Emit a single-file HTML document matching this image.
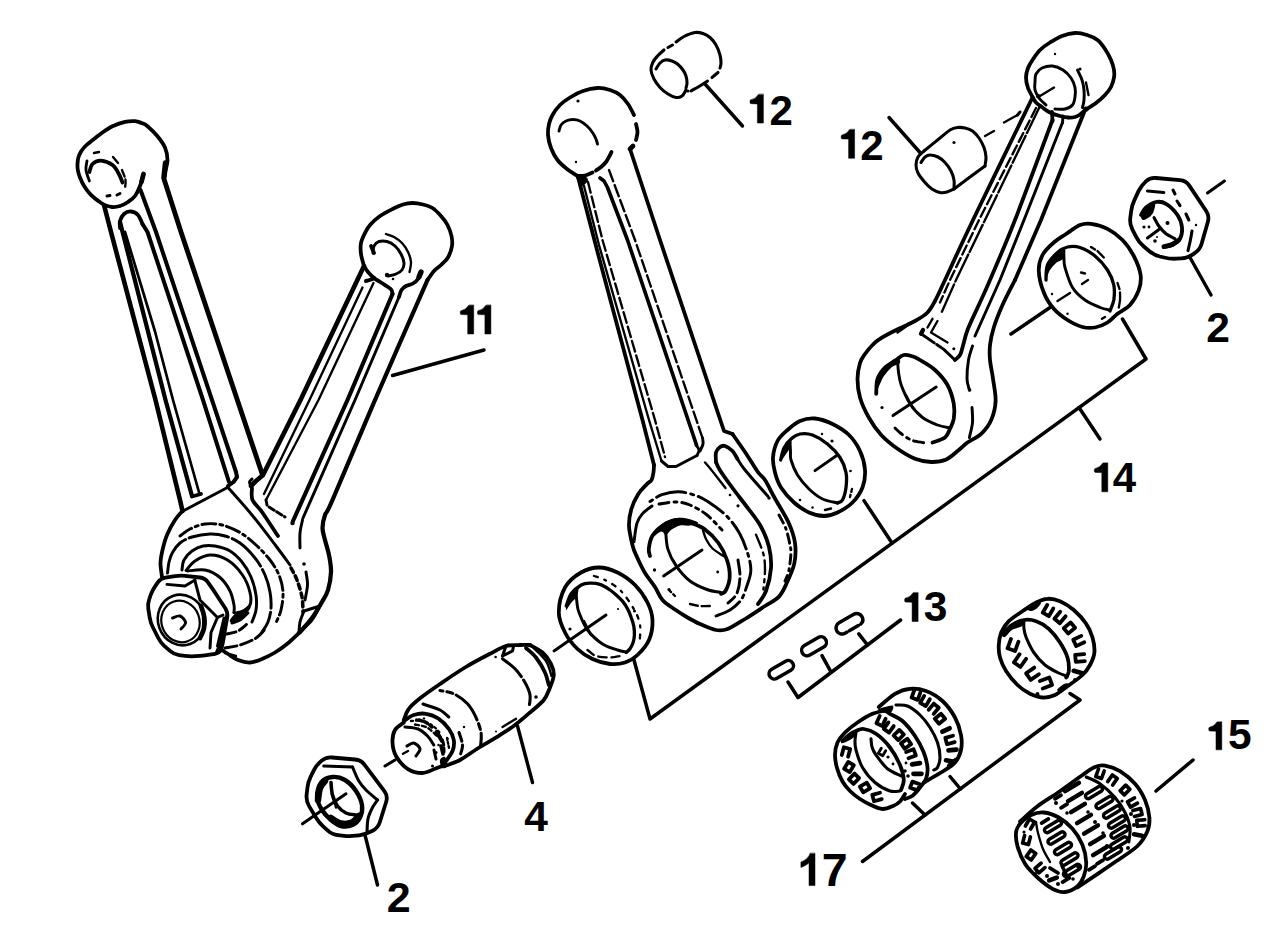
<!DOCTYPE html>
<html><head><meta charset="utf-8"><title>Connecting rods</title>
<style>
html,body{margin:0;padding:0;background:#fff;}
body{width:1280px;height:926px;overflow:hidden;}
svg{display:block;}
text{font-family:"Liberation Sans",sans-serif;font-weight:bold;fill:#000;stroke:none;}
</style></head><body>
<svg width="1280" height="926" viewBox="0 0 1280 926">
<title>Connecting rod assembly - exploded parts diagram</title>
<rect width="1280" height="926" fill="#fff"/>
<g fill="none" stroke="#000" stroke-linecap="round" stroke-linejoin="round">
<path d="M102.5 203.8C101.2 202.9 97.3 200.4 95.0 198.5C92.7 196.6 90.7 194.8 88.8 192.5C86.8 190.2 85.0 187.5 83.5 185.0C82.0 182.5 81.0 180.0 80.0 177.5C79.0 175.0 78.2 172.3 77.8 170.0C77.4 167.7 77.4 165.9 77.5 163.8C77.6 161.6 77.9 159.1 78.5 157.0C79.1 154.9 80.1 153.1 81.2 151.2C82.4 149.4 83.8 147.7 85.5 146.0C87.2 144.3 88.4 143.5 91.2 141.2C94.1 139.0 99.0 135.0 102.5 132.5C106.0 130.0 108.8 128.0 112.5 126.2C116.2 124.5 121.2 122.7 125.0 121.9C128.8 121.1 132.2 121.1 135.0 121.2C137.8 121.4 139.4 122.2 141.5 123.0C143.6 123.8 144.8 124.0 147.5 126.2C150.2 128.5 154.6 132.7 157.5 136.2C160.4 139.8 163.3 143.5 165.0 147.5C166.7 151.5 167.5 155.8 167.5 160.0C167.5 164.2 165.6 169.2 165.0 172.5C164.4 175.8 164.0 178.8 163.8 180.0" stroke-width="3.78"/>
<path d="M104.0 205.0C105.3 205.3 109.3 206.8 112.0 207.0C114.7 207.2 117.3 206.8 120.0 206.0C122.7 205.2 125.5 203.7 128.0 202.0C130.5 200.3 133.0 198.7 135.0 196.0C137.0 193.3 138.6 189.7 140.0 186.0C141.4 182.3 142.9 176.0 143.5 174.0" stroke-width="3.78"/>
<path d="M143.5 174.0 L141.5 182.0" stroke-width="4.72"/>
<path d="M165.5 163.0 L164.0 177.0" stroke-width="5.43"/>
<path d="M89.4 172.0C89.9 170.7 90.6 165.9 92.5 164.0C94.4 162.1 97.7 160.4 101.0 160.6C104.3 160.8 109.5 162.8 112.5 165.0C115.5 167.2 117.1 170.8 118.8 173.8C120.4 176.7 121.9 181.0 122.5 182.5" stroke-width="3.78"/>
<path d="M87.0 161.0C86.8 162.5 85.6 166.7 86.0 170.0C86.4 173.3 88.8 179.2 89.4 181.0" stroke-width="2.83"/>
<path d="M113.0 157.0 L118.0 163.0" stroke-width="2.36"/>
<path d="M122.0 170.0C122.6 171.7 125.0 177.0 125.5 180.0C126.0 183.0 125.1 186.7 125.0 188.0" stroke-width="2.36" stroke-dasharray="7 3"/>
<path d="M117.0 195.0 L120.0 193.5" stroke-width="2.95"/>
<path d="M107.0 196.0 L110.0 195.5" stroke-width="2.95"/>
<path d="M94.0 153.0 L99.0 152.0" stroke-width="2.36"/>
<path d="M104.0 205.0L111.0 232.0L155.5 400.0L180.0 500.0L182.5 511.0" stroke-width="4.60"/>
<path d="M164.0 179.0L181.0 232.0L262.5 475.0" stroke-width="4.84"/>
<path d="M140.5 190.0L156.0 232.0L236.0 472.0L237.0 477.0L233.5 482.0L228.0 486.0" stroke-width="4.01"/>
<path d="M120.0 228.0C120.0 226.8 119.3 223.3 120.0 221.0C120.7 218.7 122.2 215.6 124.0 214.0C125.8 212.4 128.7 211.3 131.0 211.5C133.3 211.7 136.1 212.9 138.0 215.0C139.9 217.1 141.8 222.5 142.5 224.0" stroke-width="3.78"/>
<path d="M142.5 224.0L147.5 232.0L203.0 400.0L229.0 482.0" stroke-width="4.01"/>
<path d="M120.0 222.0L165.5 400.0L192.0 496.0" stroke-width="4.25"/>
<path d="M125.0 232.0L155.0 331.5L173.0 400.0L199.5 494.0" stroke-width="2.71"/>
<path d="M192.0 496.5 L201.0 494.0" stroke-width="3.78"/>
<path d="M183.0 511.0L227.5 487.5" stroke-width="2.95"/>
<path d="M182.5 511.0C181.2 512.5 177.6 516.0 175.0 520.0C172.4 524.0 169.1 530.0 167.0 535.0C164.9 540.0 163.6 545.3 162.5 550.0C161.4 554.7 160.6 558.5 160.5 563.0C160.4 567.5 161.8 574.7 162.0 577.0" stroke-width="3.78"/>
<path d="M228.0 487.5C232.0 492.1 244.0 505.2 252.0 515.0C260.0 524.8 269.7 537.7 276.0 546.0C282.3 554.3 287.7 561.8 290.0 565.0" stroke-width="2.95"/>
<path d="M291.0 568.0C292.0 570.0 295.2 575.2 297.0 580.0C298.8 584.8 301.0 591.7 302.0 597.0C303.0 602.3 302.8 609.5 303.0 612.0" stroke-width="3.54" stroke-dasharray="5 4"/>
<path d="M364.0 266.0C363.5 264.0 361.5 257.8 361.0 254.0C360.5 250.2 360.3 246.5 361.0 243.0C361.7 239.5 363.5 236.0 365.0 233.0C366.5 230.0 367.5 227.8 370.0 225.0C372.5 222.2 376.2 218.7 380.0 216.0C383.8 213.3 388.7 210.9 392.5 209.0C396.3 207.1 399.7 205.5 403.0 204.5C406.3 203.5 409.2 203.0 412.5 203.0C415.8 203.0 419.7 203.7 423.0 204.5C426.3 205.3 429.5 206.1 432.5 208.0C435.5 209.9 438.5 213.2 441.0 216.0C443.5 218.8 445.8 221.7 447.5 225.0C449.2 228.3 450.8 232.5 451.5 236.0C452.2 239.5 452.6 242.4 452.0 246.0C451.4 249.6 449.8 254.3 448.0 257.5C446.2 260.7 443.3 262.8 441.0 265.0C438.7 267.2 436.2 268.5 434.0 271.0C431.8 273.5 428.6 278.5 427.5 280.0" stroke-width="3.78"/>
<path d="M364.0 266.0C364.7 267.0 366.3 270.0 368.0 272.0C369.7 274.0 371.8 276.2 374.0 278.0C376.2 279.8 378.7 281.0 381.0 282.5C383.3 284.0 386.2 285.8 388.0 287.0C389.8 288.2 390.8 288.8 391.5 290.0C392.2 291.2 392.3 293.3 392.5 294.0" stroke-width="3.78"/>
<path d="M366.0 281.0C366.8 280.8 369.7 280.0 371.0 279.5C372.3 279.0 373.5 278.2 374.0 278.0" stroke-width="4.01"/>
<path d="M420.5 272.5C420.1 273.6 419.2 277.2 418.0 279.0C416.8 280.8 415.0 282.3 413.0 283.5C411.0 284.7 407.9 284.9 406.0 286.0C404.1 287.1 402.7 288.2 401.5 290.0C400.3 291.8 399.4 295.8 399.0 297.0" stroke-width="3.78"/>
<path d="M421.0 272.0 L419.0 277.0" stroke-width="5.31"/>
<path d="M373.0 253.0C373.2 251.8 373.0 247.9 374.0 246.0C375.0 244.1 376.8 242.2 379.0 241.5C381.2 240.8 384.3 240.8 387.0 241.5C389.7 242.2 392.7 243.9 395.0 246.0C397.3 248.1 399.5 251.2 401.0 254.0C402.5 256.8 403.8 260.3 404.0 263.0C404.2 265.7 403.3 268.2 402.0 270.0C400.7 271.8 398.3 273.0 396.0 274.0C393.7 275.0 389.3 275.7 388.0 276.0" stroke-width="2.95"/>
<path d="M371.0 246.0 L374.0 253.0" stroke-width="3.78"/>
<path d="M386.0 234.0C387.3 234.5 391.3 235.5 394.0 237.0C396.7 238.5 399.7 240.5 402.0 243.0C404.3 245.5 406.5 248.8 408.0 252.0C409.5 255.2 410.8 258.7 411.0 262.0C411.2 265.3 409.8 270.3 409.5 272.0" stroke-width="2.36"/>
<circle cx="387.0" cy="275.0" r="2.2" fill="#000" stroke="none"/>
<circle cx="393.0" cy="279.0" r="1.3" fill="#000" stroke="none"/>
<path d="M364.0 266.0L300.5 400.0L263.0 475.0L256.0 481.0L251.0 486.0" stroke-width="4.60"/>
<path d="M251.0 486.0C250.8 485.3 249.3 483.2 249.5 482.0C249.7 480.8 251.6 479.5 252.0 479.0" stroke-width="2.95"/>
<path d="M362.5 287.5L309.5 400.0L264.0 494.0" stroke-width="2.36"/>
<path d="M373.5 283.0L318.5 400.0L266.0 500.0" stroke-width="2.36"/>
<path d="M392.5 294.0L347.5 400.0L293.0 521.0" stroke-width="4.13"/>
<path d="M399.0 297.0L355.0 400.0L303.0 518.0" stroke-width="2.95"/>
<path d="M427.5 280.0C418.8 300.0 390.8 363.3 375.0 400.0C359.2 436.7 340.8 480.8 332.5 500.0C324.2 519.2 326.7 510.3 325.0 515.0C323.3 519.7 322.5 523.8 322.5 528.0C322.5 532.2 323.9 535.5 325.0 540.0C326.1 544.5 328.0 549.7 329.0 555.0C330.0 560.3 331.2 566.2 331.0 572.0C330.8 577.8 329.5 585.0 328.0 590.0C326.5 595.0 324.7 597.3 322.0 602.0C319.3 606.7 315.7 613.0 312.0 618.0C308.3 623.0 302.0 629.7 300.0 632.0" stroke-width="4.25"/>
<circle cx="292.5" cy="523.0" r="2.2" fill="#000" stroke="none"/>
<path d="M266.0 500.0 L267.0 505.0" stroke-width="2.95"/>
<path d="M269.0 507.0 L285.0 517.0" stroke-width="2.95" stroke-dasharray="6 3"/>
<path d="M252.0 488.0C252.1 490.0 250.8 496.0 252.5 500.0C254.2 504.0 257.8 506.0 262.0 512.0C266.2 518.0 275.3 532.0 278.0 536.0" stroke-width="3.78"/>
<path d="M302.5 520.0C302.1 522.2 300.4 528.3 300.0 533.0C299.6 537.7 300.0 545.5 300.0 548.0" stroke-width="2.95"/>
<circle cx="304.0" cy="564.0" r="1.8" fill="#000" stroke="none"/>
<path d="M306.0 572.0C306.2 574.2 307.7 580.3 307.5 585.0C307.3 589.7 305.4 597.5 305.0 600.0" stroke-width="2.95"/>
<path d="M300.0 632.0C297.8 634.0 291.2 640.6 287.0 644.0C282.8 647.4 279.2 650.0 275.0 652.5C270.8 655.0 266.2 657.3 262.0 659.0C257.8 660.7 254.0 662.3 250.0 662.5C246.0 662.7 241.7 661.4 238.0 660.0C234.3 658.6 230.7 655.7 228.0 654.0C225.3 652.3 223.0 650.7 222.0 650.0" stroke-width="3.78"/>
<path d="M304.0 611.0 L320.0 606.0" stroke-width="2.95"/>
<path d="M320.0 606.0C318.7 608.3 315.5 615.6 312.0 620.0C308.5 624.4 301.2 630.4 299.0 632.5" stroke-width="2.95"/>
<path d="M304.0 611.0C303.3 612.8 300.8 618.5 300.0 622.0C299.2 625.5 299.2 630.3 299.0 632.0" stroke-width="2.95"/>
<path d="M180.0 536.0C181.7 534.8 185.8 531.0 190.0 529.0C194.2 527.0 199.7 524.7 205.0 524.0C210.3 523.3 216.2 523.6 222.0 525.0C227.8 526.4 234.3 529.2 240.0 532.5C245.7 535.8 251.0 540.4 256.0 545.0C261.0 549.6 266.2 555.0 270.0 560.0C273.8 565.0 276.8 569.7 279.0 575.0C281.2 580.3 282.7 586.2 283.0 592.0C283.3 597.8 282.3 604.5 281.0 610.0C279.7 615.5 276.0 622.5 275.0 625.0" stroke-width="2.95" stroke-dasharray="14 4 3 4"/>
<path d="M167.5 573.0C167.8 571.2 168.2 565.4 169.0 562.0C169.8 558.6 170.7 555.7 172.5 552.5C174.3 549.3 176.8 545.6 180.0 543.0C183.2 540.4 187.0 538.5 192.0 537.0C197.0 535.5 204.5 534.2 210.0 534.0C215.5 533.8 220.0 534.5 225.0 536.0C230.0 537.5 235.0 539.3 240.0 543.0C245.0 546.7 250.8 552.7 255.0 558.0C259.2 563.3 262.5 569.3 265.0 575.0C267.5 580.7 269.0 586.5 270.0 592.0C271.0 597.5 271.3 603.0 271.0 608.0C270.7 613.0 269.5 618.0 268.0 622.0C266.5 626.0 263.0 630.3 262.0 632.0" stroke-width="2.95" stroke-dasharray="40 4"/>
<path d="M182.0 570.0C182.3 568.3 182.3 563.2 184.0 560.0C185.7 556.8 188.8 553.3 192.0 551.0C195.2 548.7 199.2 546.8 203.0 546.0C206.8 545.2 210.5 545.2 215.0 546.0C219.5 546.8 225.5 548.3 230.0 551.0C234.5 553.7 238.5 557.7 242.0 562.0C245.5 566.3 248.7 571.5 251.0 577.0C253.3 582.5 255.2 589.5 256.0 595.0C256.8 600.5 256.7 605.5 256.0 610.0C255.3 614.5 252.7 620.0 252.0 622.0" stroke-width="2.95"/>
<path d="M186.0 570.5C187.5 568.9 191.0 563.6 195.0 561.0C199.0 558.4 204.6 555.2 210.0 555.0C215.4 554.8 222.1 556.7 227.5 560.0C232.9 563.3 238.8 569.6 242.5 575.0C246.2 580.4 248.8 587.5 250.0 592.5C251.2 597.5 251.2 601.9 250.0 605.0C248.8 608.1 245.3 609.7 243.0 611.0C240.7 612.3 237.2 612.7 236.0 613.0" stroke-width="2.95"/>
<path d="M187.5 571.0C190.4 570.8 199.6 568.9 205.0 570.0C210.4 571.1 215.8 574.0 220.0 577.5C224.2 581.0 227.7 586.4 230.0 591.0C232.3 595.6 233.3 601.4 234.0 605.0C234.7 608.6 234.0 611.2 234.0 612.5" stroke-width="2.95"/>
<path d="M234.0 612.5 L240.0 615.0" stroke-width="2.95"/>
<path d="M236.0 613.0C238.2 611.3 240.7 611.5 243.0 610.0C245.3 608.5 248.8 604.2 250.0 604.0C251.2 603.8 251.2 606.8 250.0 609.0C248.8 611.2 246.0 614.8 243.0 617.0C240.0 619.2 234.2 621.5 232.0 622.0C229.8 622.5 229.3 621.5 230.0 620.0C230.7 618.5 233.8 614.7 236.0 613.0Z" fill="#000" stroke="none"/>
<path d="M232.0 623.0C233.3 622.5 237.3 621.7 240.0 620.0C242.7 618.3 246.7 614.2 248.0 613.0" stroke-width="2.95"/>
<path d="M227.0 634.0C228.8 633.5 234.7 632.7 238.0 631.0C241.3 629.3 245.5 625.2 247.0 624.0" stroke-width="2.95" stroke-dasharray="9 4"/>
<path d="M225.0 648.0C227.5 647.5 234.8 646.7 240.0 645.0C245.2 643.3 251.7 640.8 256.0 638.0C260.3 635.2 264.3 629.7 266.0 628.0" stroke-width="2.95" stroke-dasharray="12 4"/>
<path d="M225.0 653.0 L236.0 656.0" stroke-width="2.36"/>
<path d="M148.3 608.9Q147.5 604.0 149.2 599.3L150.8 594.7Q152.5 590.0 155.4 585.9L157.6 582.6Q160.5 578.5 165.4 577.7L175.1 576.1Q180.0 575.3 185.0 575.8L200.0 577.5Q205.0 578.0 207.8 582.1L212.2 588.4Q215.0 592.5 217.7 596.7L225.3 608.3Q228.0 612.5 227.2 617.4L225.8 625.1Q225.0 630.0 224.2 634.9L223.3 640.1Q222.5 645.0 221.2 649.0L221.2 649.0Q220.0 653.0 215.1 653.8L209.9 654.7Q205.0 655.5 200.0 655.8L195.0 656.2Q190.0 656.5 185.0 655.9L179.0 655.1Q174.0 654.5 170.3 651.2L164.2 645.8Q160.5 642.5 158.3 638.0L152.7 627.0Q150.5 622.5 149.7 617.6Z" stroke-width="3.78"/>
<path d="M167.0 584.4L185.0 586.0L195.0 580.0" stroke-width="2.95"/>
<path d="M195.0 581.0L200.0 600.0L217.5 617.5L223.0 615.0" stroke-width="2.95"/>
<path d="M217.5 617.5L211.0 632.5L210.0 648.0" stroke-width="2.95"/>
<path d="M224.0 618.0L217.5 646.0" stroke-width="2.95"/>
<path d="M224.0 618.0L227.0 614.0L224.0 632.0L221.0 652.0L215.0 652.0L218.0 645.0Z" fill="#000" stroke="none"/>
<ellipse cx="181.5" cy="620.0" rx="23.5" ry="25.5" transform="rotate(-20.0 181.5 620.0)" stroke-width="2.60"/>
<ellipse cx="180.5" cy="621.5" rx="19.0" ry="21.0" transform="rotate(-20.0 180.5 621.5)" stroke-width="2.20"/>
<path d="M201.0 606.0C201.5 607.7 203.5 612.3 204.0 616.0C204.5 619.7 204.7 624.3 204.0 628.0C203.3 631.7 200.7 636.3 200.0 638.0" stroke-width="4.72"/>
<path d="M172.5 618.0C173.8 617.7 177.8 615.2 180.0 616.0C182.2 616.8 185.4 620.3 185.6 622.5C185.8 624.7 181.8 627.9 181.0 629.0" stroke-width="2.95"/>
<path d="M484.0 350.0L392.5 375.5" stroke-width="3.42"/>
<path d="M577.5 176.0C575.8 174.8 570.3 171.7 567.0 169.0C563.7 166.3 560.2 163.5 557.5 160.0C554.8 156.5 552.6 152.2 551.0 148.0C549.4 143.8 548.3 139.0 548.0 135.0C547.7 131.0 548.2 127.3 549.0 124.0C549.8 120.7 550.7 118.2 552.5 115.0C554.3 111.8 557.1 107.9 560.0 105.0C562.9 102.1 566.2 99.8 570.0 97.5C573.8 95.2 578.4 92.6 583.0 91.0C587.6 89.4 593.0 88.2 597.5 88.0C602.0 87.8 606.2 88.8 610.0 90.0C613.8 91.2 617.0 92.7 620.0 95.0C623.0 97.3 625.7 100.7 628.0 104.0C630.3 107.3 633.0 113.2 634.0 115.0" stroke-width="3.78"/>
<path d="M636.0 124.0C636.2 125.3 637.5 129.3 637.5 132.0C637.5 134.7 636.2 138.7 636.0 140.0" stroke-width="3.78"/>
<path d="M633.0 146.0 L630.0 149.0" stroke-width="4.72"/>
<path d="M577.5 176.0C578.8 175.9 582.5 176.1 585.0 175.5C587.5 174.9 591.2 173.0 592.5 172.5" stroke-width="3.78"/>
<path d="M596.0 170.5C596.8 169.9 599.3 168.4 601.0 167.0C602.7 165.6 604.6 163.8 606.0 162.0C607.4 160.2 608.6 157.7 609.5 156.0C610.4 154.3 611.2 152.7 611.5 152.0" stroke-width="3.78"/>
<circle cx="578.0" cy="101.0" r="1.6" fill="#000" stroke="none"/>
<circle cx="576.0" cy="162.0" r="1.2" fill="#000" stroke="none"/>
<path d="M559.0 131.0C559.3 130.0 559.8 126.7 561.0 125.0C562.2 123.3 564.0 121.9 566.0 121.0C568.0 120.1 570.7 119.5 573.0 119.5C575.3 119.5 577.7 119.9 580.0 121.0C582.3 122.1 584.9 124.1 587.0 126.0C589.1 127.9 591.0 130.3 592.5 132.5C594.0 134.7 595.2 137.1 596.0 139.0C596.8 140.9 597.2 143.2 597.5 144.0" stroke-width="2.95"/>
<path d="M578.0 177.0L597.0 250.0L642.5 420.0L654.0 465.0" stroke-width="3.78"/>
<path d="M576.0 176.0C576.7 174.7 582.0 175.3 584.0 176.0C586.0 176.7 588.2 178.3 588.0 180.0C587.8 181.7 584.3 185.3 583.0 186.0C581.7 186.7 581.2 185.7 580.0 184.0C578.8 182.3 575.3 177.3 576.0 176.0Z" fill="#000" stroke="none"/>
<path d="M584.0 186.0L599.0 245.0L649.0 420.0L661.5 461.0" stroke-width="2.36"/>
<path d="M588.0 182.0L602.5 240.0L655.0 420.0L665.0 457.0" stroke-width="2.36" stroke-dasharray="11 4"/>
<path d="M600.0 178.0L604.0 181.0L607.5 187.5L627.5 240.0L696.5 445.0" stroke-width="3.66"/>
<path d="M609.0 170.0L635.0 240.0L702.5 438.0" stroke-width="2.36" stroke-dasharray="12 4"/>
<path d="M702.5 438.0C702.6 439.0 703.4 441.8 703.0 444.0C702.6 446.2 700.5 449.8 700.0 451.0" stroke-width="2.95"/>
<path d="M696.0 445.0C696.5 445.8 698.8 448.2 699.0 450.0C699.2 451.8 697.3 454.6 697.0 455.5" stroke-width="2.95"/>
<path d="M697.0 455.5L676.0 466.5L668.0 466.5L661.5 461.0" stroke-width="2.95"/>
<path d="M630.0 149.0L660.0 240.0L724.0 431.0L732.5 434.0" stroke-width="3.78"/>
<path d="M732.5 434.0C734.6 437.0 740.8 445.8 745.0 452.0C749.2 458.2 754.2 466.8 757.5 471.5C760.8 476.2 762.1 475.6 765.0 480.0C767.9 484.4 770.7 490.8 774.7 498.0C778.7 505.2 785.4 515.5 788.8 523.0C792.1 530.5 794.1 536.3 795.0 543.0C795.9 549.7 795.7 556.4 794.4 563.0C793.1 569.6 789.6 576.9 787.0 582.5C784.4 588.1 782.7 592.7 779.0 596.6C775.3 600.5 770.7 602.3 765.0 606.0C759.3 609.7 751.2 615.2 745.0 619.0C738.8 622.8 732.3 627.2 727.5 629.0C722.7 630.8 720.6 630.8 716.0 630.0C711.4 629.2 704.8 626.1 700.0 624.0C695.2 621.9 691.7 619.9 687.5 617.5C683.3 615.1 679.2 612.4 675.0 609.5C670.8 606.6 665.8 603.8 662.5 600.0C659.2 596.2 657.9 591.5 655.0 587.0C652.1 582.5 648.0 578.0 645.0 573.0C642.0 568.0 639.0 561.5 637.0 557.0C635.0 552.5 634.0 551.2 632.7 546.0C631.4 540.8 629.2 532.1 629.0 526.0C628.8 519.9 629.7 514.8 631.2 509.4C632.8 504.0 635.7 498.1 638.3 493.9C640.9 489.7 644.8 486.4 647.0 484.0C649.2 481.6 650.5 481.8 651.6 479.8C652.7 477.8 653.1 474.5 653.5 472.0C653.9 469.5 653.9 466.2 654.0 465.0" stroke-width="3.78"/>
<path d="M716.0 462.0C716.0 460.4 715.3 455.0 716.0 452.5C716.7 450.0 718.5 448.1 720.0 447.0C721.5 445.9 722.9 445.3 725.0 446.0C727.1 446.7 730.4 448.8 732.5 451.0C734.6 453.2 736.7 457.7 737.5 459.0" stroke-width="3.78"/>
<path d="M716.0 462.0C716.6 463.3 717.0 465.7 719.8 470.0C722.5 474.3 728.0 481.9 732.5 488.0C737.0 494.1 741.9 500.2 746.6 506.5C751.3 512.8 756.9 519.2 760.6 526.0C764.3 532.8 767.3 540.0 769.0 547.0C770.7 554.0 771.5 560.7 771.0 568.0C770.5 575.3 768.2 585.0 766.0 591.0C763.8 597.0 759.3 601.8 758.0 604.0" stroke-width="3.78"/>
<path d="M737.5 459.0C738.8 460.8 740.0 463.8 745.0 470.0C750.0 476.2 763.9 491.7 767.7 496.0" stroke-width="2.95"/>
<circle cx="769.0" cy="498.0" r="1.7" fill="#000" stroke="none"/>
<path d="M705.0 462.5C706.1 463.8 708.0 465.8 711.4 470.0C714.8 474.2 723.1 485.0 725.5 488.0" stroke-width="2.36"/>
<circle cx="730.0" cy="495.0" r="1.3" fill="#000" stroke="none"/>
<circle cx="738.0" cy="505.8" r="1.6" fill="#000" stroke="none"/>
<path d="M756.0 534.7C757.2 537.9 761.9 548.1 763.4 554.0C764.9 559.9 765.0 564.1 765.0 570.0C765.0 575.9 763.7 586.2 763.4 589.5" stroke-width="2.36" stroke-dasharray="14 5 3 5"/>
<path d="M779.0 515.0C780.2 517.3 784.2 524.0 786.0 529.0C787.8 534.0 789.2 540.8 790.0 545.0C790.8 549.2 791.1 549.7 790.9 554.0C790.7 558.3 789.7 566.5 788.8 571.0C787.8 575.5 785.6 579.3 785.0 581.0" stroke-width="2.95" stroke-dasharray="9 5 2 5"/>
<path d="M650.0 501.6C652.0 500.4 657.2 496.2 662.0 494.6C666.8 493.0 673.2 491.6 679.0 491.8C684.8 492.0 691.7 494.0 697.0 496.0C702.3 498.0 706.0 500.4 711.0 503.8C716.0 507.1 722.2 511.5 727.0 516.4C731.8 521.3 736.0 527.0 739.5 533.3C743.0 539.6 746.1 548.1 748.0 554.4C749.9 560.7 751.0 565.6 750.8 571.0C750.6 576.4 748.2 581.9 746.6 586.7C745.0 591.5 743.8 596.1 741.0 600.0C738.2 603.9 734.2 607.3 730.0 610.0C725.8 612.7 718.3 615.0 716.0 616.0" stroke-width="2.95" stroke-dasharray="3 5 30 5"/>
<path d="M634.0 541.7C634.5 538.7 635.5 528.1 636.9 523.4C638.3 518.7 640.0 516.5 642.5 513.6C645.0 510.7 650.4 507.3 652.0 506.0" stroke-width="2.95"/>
<path d="M659.0 504.0C661.8 503.7 670.8 501.8 676.0 502.0C681.2 502.2 684.8 502.8 690.0 505.0C695.2 507.2 701.7 510.8 707.0 515.0C712.3 519.2 719.5 527.5 722.0 530.0" stroke-width="2.95" stroke-dasharray="10 5 3 5"/>
<path d="M738.0 560.0C738.3 562.8 740.2 571.4 740.0 577.0C739.8 582.6 738.7 589.4 736.7 593.8C734.7 598.1 729.5 601.5 728.0 603.0" stroke-width="2.95" stroke-dasharray="14 5"/>
<path d="M650.0 556.0C649.8 554.8 648.4 552.1 648.8 548.8C649.2 545.4 650.1 539.8 652.3 536.0C654.5 532.2 658.0 528.7 662.0 526.0C666.0 523.3 671.3 520.5 676.0 520.0C680.7 519.5 685.3 521.2 690.0 522.7C694.7 524.2 699.7 525.6 704.4 529.0C709.1 532.4 714.6 537.8 718.4 543.0C722.2 548.2 725.1 554.3 727.0 560.0C728.9 565.7 730.0 571.8 729.7 577.0C729.5 582.2 727.0 588.2 725.5 591.0C724.0 593.8 721.8 593.3 721.0 593.8" stroke-width="3.78"/>
<path d="M651.5 538.0C651.2 537.2 655.8 529.6 659.0 526.5C662.2 523.4 666.8 520.9 671.0 519.5C675.2 518.1 679.5 517.5 684.0 518.0C688.5 518.5 697.0 521.2 698.0 522.5C699.0 523.8 693.0 525.0 690.0 525.5C687.0 526.0 683.2 524.8 680.0 525.5C676.8 526.2 673.3 528.4 671.0 530.0C668.7 531.6 667.7 534.8 666.0 535.0C664.3 535.2 663.4 531.0 661.0 531.5C658.6 532.0 651.8 538.8 651.5 538.0Z" fill="#000" stroke="none"/>
<path d="M665.7 531.9C666.1 534.7 666.1 543.1 667.8 548.8C669.5 554.4 672.3 560.2 676.0 565.6C679.7 571.0 684.8 577.0 690.0 581.0C695.2 585.0 701.8 587.6 707.0 589.5C712.2 591.4 718.7 592.0 721.0 592.5" stroke-width="2.95"/>
<path d="M703.0 530.5C703.5 531.9 704.5 536.1 706.0 539.0C707.5 541.9 709.1 545.2 712.0 548.0C714.9 550.8 721.5 554.7 723.4 556.0" stroke-width="2.36"/>
<path d="M663.6 576.0L702.0 550.0" stroke-width="2.95"/>
<path d="M672.7 560.0L679.0 569.8" stroke-width="2.36"/>
<circle cx="654.5" cy="570.0" r="1.7" fill="#000" stroke="none"/>
<circle cx="717.7" cy="572.0" r="1.4" fill="#000" stroke="none"/>
<circle cx="669.0" cy="589.5" r="1.6" fill="#000" stroke="none"/>
<path d="M669.0 590.0 L675.0 596.0" stroke-width="2.36" stroke-dasharray="3 3"/>
<path d="M690.0 604.0C691.7 604.3 696.3 605.7 700.0 606.0C703.7 606.3 710.0 606.0 712.0 606.0" stroke-width="2.36" stroke-dasharray="8 4"/>
<path d="M1032.5 97.0C1031.8 95.5 1029.1 91.2 1028.0 88.0C1026.9 84.8 1026.0 80.8 1026.0 77.5C1026.0 74.2 1026.9 70.9 1028.0 68.0C1029.1 65.1 1030.5 63.0 1032.5 60.0C1034.5 57.0 1037.1 52.9 1040.0 50.0C1042.9 47.1 1046.3 44.8 1050.0 42.5C1053.7 40.2 1057.8 37.6 1062.0 36.0C1066.2 34.4 1070.8 33.2 1075.0 33.0C1079.2 32.8 1083.2 33.8 1087.0 35.0C1090.8 36.2 1094.5 37.7 1097.5 40.0C1100.5 42.3 1102.8 45.7 1105.0 49.0C1107.2 52.3 1109.5 56.5 1111.0 60.0C1112.5 63.5 1113.5 67.1 1114.0 70.0C1114.5 72.9 1114.5 74.7 1114.0 77.5C1113.5 80.3 1112.5 84.1 1111.0 87.0C1109.5 89.9 1107.5 92.3 1105.0 95.0C1102.5 97.7 1099.3 100.5 1096.0 103.0C1092.7 105.5 1086.8 108.8 1085.0 110.0" stroke-width="3.78"/>
<path d="M1032.5 97.0C1033.1 97.9 1034.3 100.8 1036.0 102.5C1037.7 104.2 1040.2 105.8 1042.5 107.5C1044.8 109.2 1047.1 111.1 1050.0 112.5C1052.9 113.9 1057.0 115.2 1060.0 116.0C1063.0 116.8 1065.5 117.3 1068.0 117.5C1070.5 117.7 1073.0 117.5 1075.0 117.0C1077.0 116.5 1078.3 115.7 1080.0 114.5C1081.7 113.3 1084.2 110.8 1085.0 110.0" stroke-width="3.78"/>
<circle cx="1086.0" cy="109.0" r="2.6" fill="#000" stroke="none"/>
<circle cx="1038.0" cy="96.0" r="2.2" fill="#000" stroke="none"/>
<path d="M1046.0 105.0C1044.8 103.8 1040.8 100.5 1039.0 98.0C1037.2 95.5 1035.7 92.7 1035.0 90.0C1034.3 87.3 1034.8 84.7 1035.0 82.0C1035.2 79.3 1034.8 76.3 1036.0 74.0C1037.2 71.7 1039.2 69.3 1042.0 68.0C1044.8 66.7 1049.0 65.7 1052.5 66.0C1056.0 66.3 1059.9 68.0 1063.0 70.0C1066.1 72.0 1069.0 75.1 1071.0 78.0C1073.0 80.9 1074.3 84.3 1075.0 87.5C1075.7 90.7 1075.4 94.1 1075.0 97.0C1074.6 99.9 1074.2 103.0 1072.5 105.0C1070.8 107.0 1067.9 108.3 1065.0 109.0C1062.1 109.7 1056.7 109.0 1055.0 109.0" stroke-width="2.95"/>
<path d="M1077.5 70.0C1078.2 71.7 1080.9 76.7 1082.0 80.0C1083.1 83.3 1083.7 86.7 1084.0 90.0C1084.3 93.3 1084.2 97.1 1084.0 100.0C1083.8 102.9 1082.8 106.2 1082.5 107.5" stroke-width="2.95"/>
<path d="M1086.0 82.5 L1088.5 95.0" stroke-width="2.36"/>
<circle cx="1055.0" cy="54.0" r="1.2" fill="#000" stroke="none"/>
<circle cx="1080.0" cy="69.0" r="1.6" fill="#000" stroke="none"/>
<path d="M1040.0 96.0L1054.0 87.5" stroke-width="2.36"/>
<path d="M1004.0 122.5L1017.5 115.0" stroke-width="2.36"/>
<path d="M985.0 136.0L994.0 131.0" stroke-width="2.36"/>
<path d="M1017.5 115.0 L1020.0 112.0" stroke-width="2.95"/>
<path d="M1032.5 97.5C1022.6 117.9 987.6 189.6 973.0 220.0C958.4 250.4 951.3 266.5 945.0 280.0C938.7 293.5 937.9 295.6 935.0 301.0C932.1 306.4 930.8 309.2 927.5 312.5C924.2 315.8 919.8 318.3 915.0 321.0C910.2 323.7 904.6 325.8 898.8 328.8C892.9 331.7 884.4 336.0 880.0 338.8C875.6 341.5 875.0 342.5 872.5 345.0C870.0 347.5 867.1 351.0 865.0 354.0C862.9 357.0 861.2 358.9 860.0 363.0C858.8 367.1 857.5 373.0 857.5 378.8C857.5 384.5 858.1 391.0 860.0 397.5C861.9 404.0 865.2 411.2 868.8 417.5C872.3 423.8 876.5 429.8 881.2 435.0C886.0 440.2 891.9 444.8 897.5 448.8C903.1 452.7 909.4 456.5 915.0 458.8C920.6 461.0 926.0 461.9 931.2 462.0C936.5 462.1 941.7 461.4 946.2 459.4C950.8 457.4 955.2 452.8 958.8 450.0C962.3 447.2 963.8 445.2 967.5 442.5C971.2 439.8 977.3 437.5 981.2 433.8C985.2 430.0 988.9 425.4 991.2 420.0C993.6 414.6 995.3 408.1 995.6 401.2C995.9 394.4 993.9 385.6 993.0 378.8C992.1 371.9 990.5 365.6 990.0 360.0C989.5 354.4 989.4 350.4 990.0 345.0C990.6 339.6 991.7 334.2 993.8 327.5C995.8 320.8 999.0 312.9 1002.5 305.0C1006.0 297.1 1012.9 284.2 1015.0 280.0" stroke-width="3.78"/>
<path d="M1015.0 280.0L1041.0 220.0L1085.0 110.0" stroke-width="3.78"/>
<path d="M897.5 332.5 L907.5 325.6" stroke-width="2.36"/>
<path d="M1036.0 108.0L979.0 220.0L950.0 280.0L940.0 302.5" stroke-width="2.36" stroke-dasharray="10 4"/>
<path d="M1040.0 106.0L985.0 220.0L956.0 280.0L941.0 313.8" stroke-width="2.36" stroke-dasharray="30 3"/>
<path d="M1052.5 120.0C1046.2 136.7 1025.4 193.3 1015.0 220.0C1004.6 246.7 996.0 265.8 990.0 280.0C984.0 294.2 982.5 296.7 978.8 305.0C975.0 313.3 970.2 322.9 967.5 330.0C964.8 337.1 963.8 343.3 962.5 347.5C961.2 351.7 961.2 352.9 960.0 355.0C958.8 357.1 955.8 359.2 955.0 360.0" stroke-width="3.78"/>
<path d="M1052.0 112.0 L1052.5 121.0" stroke-width="3.78"/>
<path d="M1062.5 122.5L1024.0 220.0L1000.0 280.0L975.0 336.0" stroke-width="2.95"/>
<path d="M1063.0 116.0 L1062.5 123.0" stroke-width="2.95"/>
<path d="M955.0 360.0L943.8 349.4L921.0 333.8" stroke-width="2.95" stroke-dasharray="24 3"/>
<path d="M921.0 333.8 L923.0 330.0" stroke-width="4.25"/>
<path d="M927.5 327.5L932.5 318.8" stroke-width="2.36"/>
<path d="M937.5 321.0L931.0 332.5L947.5 342.5" stroke-width="2.36"/>
<circle cx="953.8" cy="348.8" r="1.5" fill="#000" stroke="none"/>
<path d="M972.5 346.0C971.8 348.3 969.4 354.5 968.5 360.0C967.6 365.5 966.9 373.8 967.0 378.8C967.1 383.8 969.0 388.1 969.4 390.0" stroke-width="2.95"/>
<circle cx="969.6" cy="390.0" r="1.8" fill="#000" stroke="none"/>
<path d="M972.0 407.5C972.1 410.0 972.9 417.5 972.5 422.5C972.1 427.5 969.9 435.0 969.4 437.5" stroke-width="2.95"/>
<path d="M876.2 393.8C876.5 391.2 876.0 383.1 877.5 378.8C879.0 374.4 881.9 370.6 885.0 367.5C888.1 364.4 892.9 362.1 896.0 360.0C899.1 357.9 900.9 355.6 903.8 355.0C906.6 354.4 910.3 355.7 913.0 356.5C915.7 357.3 916.3 357.8 920.0 360.0C923.7 362.2 930.4 365.8 935.0 370.0C939.6 374.2 944.4 379.4 947.5 385.0C950.6 390.6 952.7 398.1 953.8 403.8C954.8 409.4 954.4 414.6 953.8 418.8C953.1 422.9 951.5 425.6 950.0 428.8C948.5 431.9 947.9 435.2 945.0 437.5C942.1 439.8 934.6 441.7 932.5 442.5" stroke-width="3.78"/>
<path d="M876.0 392.0C875.6 391.0 876.0 382.2 877.5 378.0C879.0 373.8 881.8 369.8 885.0 366.5C888.2 363.2 894.5 358.6 897.0 358.0C899.5 357.4 900.8 361.5 900.0 363.0C899.2 364.5 894.7 364.8 892.0 367.0C889.3 369.2 886.0 373.2 884.0 376.0C882.0 378.8 881.3 381.3 880.0 384.0C878.7 386.7 876.4 393.0 876.0 392.0Z" fill="#000" stroke="none"/>
<path d="M897.5 360.0C897.7 362.0 897.9 367.8 898.5 372.0C899.1 376.2 899.3 379.7 901.2 385.0C903.2 390.3 906.5 398.3 910.0 403.8C913.5 409.2 917.9 414.0 922.5 417.5C927.1 421.0 932.9 423.2 937.5 425.0C942.1 426.8 947.9 427.5 950.0 428.0" stroke-width="2.95"/>
<path d="M895.0 428.0C896.0 428.9 898.7 431.7 901.0 433.5C903.3 435.3 906.4 437.5 908.8 438.8C911.1 440.0 912.1 440.5 915.0 441.2C917.9 442.0 924.2 442.7 926.0 443.0" stroke-width="2.95" stroke-dasharray="10 5 3 5"/>
<path d="M893.0 415.6L936.2 387.0" stroke-width="2.95"/>
<circle cx="882.0" cy="407.5" r="1.6" fill="#000" stroke="none"/>
<path d="M906.0 395.0L912.5 407.5" stroke-width="2.36"/>
<path d="M558.8 612.5C558.8 605.0 561.3 594.2 565.0 587.5C568.7 580.8 575.3 575.8 581.0 572.5C586.7 569.2 592.9 567.5 599.0 567.5C605.1 567.5 611.5 569.6 617.5 572.5C623.5 575.4 630.0 580.0 635.0 585.0C640.0 590.0 644.6 596.7 647.5 602.5C650.4 608.3 652.2 613.8 652.5 620.0C652.8 626.2 651.5 634.2 649.0 640.0C646.5 645.8 641.5 651.2 637.5 655.0C633.5 658.8 629.6 661.0 625.0 662.5C620.4 664.0 615.4 664.6 610.0 664.0C604.6 663.4 597.9 661.5 592.5 659.0C587.1 656.5 582.1 653.4 577.5 649.0C572.9 644.6 568.1 638.6 565.0 632.5C561.9 626.4 558.8 620.0 558.8 612.5Z" stroke-width="3.78"/>
<path d="M566.2 606.0C567.1 604.0 568.8 597.2 571.2 593.8C573.8 590.2 578.1 586.8 581.2 585.0C584.4 583.2 586.9 583.2 590.0 583.1C593.1 583.0 596.7 583.2 600.0 584.4C603.3 585.5 607.3 588.2 610.0 590.0C612.7 591.8 614.2 593.1 616.2 595.0C618.3 596.9 620.6 599.0 622.5 601.2C624.4 603.5 626.0 606.0 627.5 608.8C629.0 611.5 630.2 614.6 631.2 617.5C632.3 620.4 633.2 623.3 633.8 626.2C634.3 629.2 634.5 632.3 634.4 635.0C634.3 637.7 633.8 640.2 633.1 642.5C632.4 644.8 631.1 647.1 630.0 648.8C628.9 650.4 626.9 651.9 626.2 652.5" stroke-width="3.30"/>
<path d="M576.0 592.5C576.2 594.2 576.5 599.7 577.0 603.0C577.5 606.3 577.2 608.0 579.0 612.5C580.8 617.0 583.6 624.8 587.5 630.0C591.4 635.2 597.5 640.7 602.5 644.0C607.5 647.3 613.6 648.7 617.5 650.0C621.4 651.3 624.6 651.7 626.0 652.0" stroke-width="2.95"/>
<path d="M566.0 610.0C565.7 608.8 567.0 599.8 569.0 596.0C571.0 592.2 576.7 587.0 578.0 587.0C579.3 587.0 578.2 593.3 577.0 596.0C575.8 598.7 572.8 600.7 571.0 603.0C569.2 605.3 566.3 611.2 566.0 610.0Z" fill="#000" stroke="none"/>
<path d="M554.0 651.0L606.0 615.0" stroke-width="2.95"/>
<path d="M584.0 621.0L591.0 635.0" stroke-width="2.36"/>
<path d="M594.0 576.0C595.8 576.7 600.5 577.5 605.0 580.0C609.5 582.5 616.0 585.8 621.0 591.0C626.0 596.2 631.8 605.3 635.0 611.0C638.2 616.7 639.2 620.7 640.0 625.0C640.8 629.3 640.2 633.7 640.0 637.0C639.8 640.3 639.2 643.7 639.0 645.0" stroke-width="2.36" stroke-dasharray="4 7 2 7"/>
<path d="M587.5 650.0C588.9 651.0 592.2 654.8 596.0 656.0C599.8 657.2 606.0 657.5 610.0 657.5C614.0 657.5 618.3 656.2 620.0 656.0" stroke-width="2.36" stroke-dasharray="8 5"/>
<circle cx="570.0" cy="629.0" r="1.6" fill="#000" stroke="none"/>
<circle cx="634.5" cy="611.0" r="1.5" fill="#000" stroke="none"/>
<circle cx="618.0" cy="609.0" r="1.1" fill="#000" stroke="none"/>
<path d="M773.0 457.5C773.4 452.2 775.1 445.6 777.5 441.0C779.9 436.4 783.8 433.3 787.5 430.0C791.2 426.7 795.4 422.9 800.0 421.0C804.6 419.1 809.6 418.0 815.0 418.5C820.4 419.0 826.8 421.2 832.5 424.0C838.2 426.8 844.4 430.5 849.0 435.0C853.6 439.5 857.3 445.2 860.0 451.0C862.7 456.8 864.6 463.9 865.0 470.0C865.4 476.1 864.6 482.1 862.5 487.5C860.4 492.9 856.7 498.3 852.5 502.5C848.3 506.7 842.2 510.2 837.5 512.5C832.8 514.8 828.8 516.0 824.0 516.0C819.2 516.0 814.0 514.8 809.0 512.5C804.0 510.2 798.7 506.7 794.0 502.5C789.3 498.3 784.2 492.5 781.0 487.5C777.8 482.5 776.3 477.5 775.0 472.5C773.7 467.5 772.6 462.8 773.0 457.5Z" stroke-width="3.78"/>
<path d="M780.6 460.0C781.2 458.0 782.3 451.5 784.0 448.0C785.7 444.5 788.3 441.3 791.0 439.0C793.7 436.7 796.4 434.7 800.0 434.0C803.6 433.3 807.9 433.3 812.5 435.0C817.1 436.7 822.9 440.2 827.5 444.0C832.1 447.8 836.9 452.8 840.0 457.5C843.1 462.2 845.0 467.5 846.0 472.5C847.0 477.5 846.6 482.9 846.0 487.5C845.4 492.1 843.9 497.4 842.5 500.0C841.1 502.6 838.3 502.5 837.5 503.0" stroke-width="3.30"/>
<path d="M790.0 442.5C790.1 443.9 790.3 448.1 790.5 451.0C790.7 453.9 789.8 456.0 791.0 460.0C792.2 464.0 794.5 470.2 797.5 475.0C800.5 479.8 804.8 485.0 809.0 489.0C813.2 493.0 817.8 496.7 822.5 499.0C827.2 501.3 835.0 502.3 837.5 503.0" stroke-width="2.95"/>
<path d="M780.6 461.0C780.3 459.8 782.3 450.8 784.0 447.0C785.7 443.2 789.9 438.5 791.0 438.5C792.1 438.5 791.3 444.4 790.5 447.0C789.7 449.6 787.6 451.7 786.0 454.0C784.4 456.3 780.9 462.2 780.6 461.0Z" fill="#000" stroke="none"/>
<path d="M815.0 470.6L836.0 456.0" stroke-width="2.95"/>
<circle cx="822.0" cy="434.0" r="1.2" fill="#000" stroke="none"/>
<circle cx="832.0" cy="441.0" r="1.6" fill="#000" stroke="none"/>
<circle cx="850.5" cy="471.0" r="1.3" fill="#000" stroke="none"/>
<path d="M852.0 489.0 L850.0 497.0" stroke-width="2.36" stroke-dasharray="3 3"/>
<circle cx="800.0" cy="500.0" r="1.3" fill="#000" stroke="none"/>
<circle cx="812.5" cy="507.5" r="1.2" fill="#000" stroke="none"/>
<path d="M825.0 510.0L831.0 508.5" stroke-width="2.36"/>
<path d="M1038.8 271.0C1038.5 264.8 1040.0 259.8 1042.5 255.0C1045.0 250.2 1049.8 246.0 1053.8 242.5C1057.7 239.0 1061.6 236.9 1066.0 234.0C1070.4 231.1 1075.8 226.7 1080.0 225.0C1084.2 223.3 1086.4 223.1 1091.0 223.8C1095.6 224.4 1102.2 226.0 1107.5 228.8C1112.8 231.5 1118.1 235.5 1122.5 240.0C1126.9 244.5 1130.7 250.2 1133.8 256.0C1136.8 261.8 1139.8 269.3 1140.6 275.0C1141.4 280.7 1140.5 285.0 1138.8 290.0C1137.0 295.0 1133.5 301.0 1130.0 305.0C1126.5 309.0 1121.2 310.8 1117.5 313.8C1113.8 316.7 1111.2 320.2 1107.5 322.5C1103.8 324.8 1099.2 326.8 1095.0 327.5C1090.8 328.2 1087.1 328.2 1082.5 327.0C1077.9 325.8 1072.3 323.0 1067.5 320.0C1062.7 317.0 1057.7 313.3 1053.8 308.8C1049.8 304.2 1046.2 298.8 1043.8 292.5C1041.2 286.2 1039.0 277.2 1038.8 271.0Z" stroke-width="3.78"/>
<path d="M1046.0 280.0C1046.2 277.5 1045.6 269.6 1047.5 265.0C1049.4 260.4 1054.2 255.5 1057.5 252.5C1060.8 249.5 1063.8 247.8 1067.5 247.0C1071.2 246.2 1075.4 246.0 1080.0 247.5C1084.6 249.0 1090.4 252.2 1095.0 256.0C1099.6 259.8 1104.4 265.2 1107.5 270.0C1110.6 274.8 1112.7 280.0 1113.8 285.0C1114.8 290.0 1114.4 295.7 1113.8 300.0C1113.1 304.3 1110.6 309.2 1110.0 311.0" stroke-width="3.30"/>
<path d="M1063.8 250.0C1063.8 251.5 1063.8 256.1 1064.0 259.0C1064.2 261.9 1063.6 262.8 1065.0 267.5C1066.4 272.2 1069.2 282.1 1072.5 287.5C1075.8 292.9 1080.4 296.7 1085.0 300.0C1089.6 303.3 1095.8 305.8 1100.0 307.5C1104.2 309.2 1108.3 309.6 1110.0 310.0" stroke-width="2.95"/>
<path d="M1046.0 279.0C1045.7 278.0 1046.2 268.5 1048.0 264.0C1049.8 259.5 1054.3 254.6 1057.0 252.0C1059.7 249.4 1062.8 247.5 1064.0 248.5C1065.2 249.5 1065.3 255.6 1064.0 258.0C1062.7 260.4 1058.3 261.0 1056.0 263.0C1053.7 265.0 1051.7 267.3 1050.0 270.0C1048.3 272.7 1046.3 280.0 1046.0 279.0Z" fill="#000" stroke="none"/>
<path d="M1057.5 301.0L1070.0 293.0" stroke-width="2.36"/>
<path d="M1082.0 284.0L1088.0 280.0" stroke-width="2.36"/>
<path d="M1081.0 272.5L1085.0 273.5" stroke-width="2.36"/>
<path d="M1091.0 247.0L1095.0 249.5" stroke-width="2.36"/>
<path d="M1097.5 251.0L1103.8 257.5" stroke-width="2.36"/>
<path d="M1117.5 283.0L1119.5 289.0" stroke-width="2.36"/>
<path d="M1120.0 292.5C1120.0 293.8 1120.2 297.5 1120.0 300.0C1119.8 302.5 1119.0 306.2 1118.8 307.5" stroke-width="2.36"/>
<circle cx="1067.5" cy="313.8" r="1.2" fill="#000" stroke="none"/>
<path d="M1102.0 318.8L1105.0 317.0" stroke-width="2.36"/>
<circle cx="1052.0" cy="294.0" r="1.2" fill="#000" stroke="none"/>
<path d="M686.0 90.0C685.3 91.0 683.7 94.8 682.0 96.0C680.3 97.2 678.3 97.8 676.0 97.5C673.7 97.2 670.7 95.7 668.0 94.0C665.3 92.3 662.3 90.0 660.0 87.5C657.7 85.0 655.5 81.9 654.0 79.0C652.5 76.1 651.2 72.8 651.0 70.0C650.8 67.2 651.9 64.3 653.0 62.0C654.1 59.7 655.7 58.0 657.5 56.0C659.3 54.0 662.9 51.0 664.0 50.0" stroke-width="3.07"/>
<path d="M668.0 47.5 L672.5 45.0" stroke-width="3.07"/>
<path d="M676.0 42.0C677.3 41.1 680.8 38.1 684.0 36.5C687.2 34.9 691.8 33.0 695.0 32.5C698.2 32.0 700.5 32.7 703.0 33.5C705.5 34.3 707.8 35.6 710.0 37.5C712.2 39.4 714.3 42.1 716.0 45.0C717.7 47.9 719.2 52.0 720.0 55.0C720.8 58.0 721.0 60.8 721.0 63.0C721.0 65.2 720.2 67.2 720.0 68.0" stroke-width="3.07"/>
<path d="M718.0 72.5 L712.0 77.5" stroke-width="3.07"/>
<path d="M707.5 81.0C706.1 81.9 701.8 84.8 699.0 86.5C696.2 88.2 692.3 90.2 691.0 91.0" stroke-width="3.07"/>
<circle cx="688.0" cy="91.0" r="1.6" fill="#000" stroke="none"/>
<path d="M656.0 69.0C656.7 68.0 658.5 64.5 660.0 63.0C661.5 61.5 663.0 60.3 665.0 60.0C667.0 59.7 669.9 60.3 672.0 61.0C674.1 61.7 675.7 62.5 677.5 64.0C679.3 65.5 681.6 68.0 683.0 70.0C684.4 72.0 685.3 73.8 686.0 76.0C686.7 78.2 687.0 81.0 687.0 83.0C687.0 85.0 686.2 87.2 686.0 88.0" stroke-width="3.07"/>
<path d="M705.0 84.0L742.5 126.0" stroke-width="3.42"/>
<path d="M954.0 189.0C952.8 189.5 949.3 191.4 947.0 192.0C944.7 192.6 942.5 193.0 940.0 192.5C937.5 192.0 934.5 190.7 932.0 189.0C929.5 187.3 927.3 185.2 925.0 182.5C922.7 179.8 919.5 175.9 918.0 173.0C916.5 170.1 916.0 167.7 916.0 165.0C916.0 162.3 916.7 159.3 918.0 157.0C919.3 154.7 923.0 152.0 924.0 151.0" stroke-width="3.07"/>
<path d="M924.0 151.0C926.7 148.8 935.7 141.5 940.0 138.0C944.3 134.5 947.1 131.8 950.0 130.0C952.9 128.2 955.0 127.8 957.5 127.5C960.0 127.2 962.5 127.4 965.0 128.0C967.5 128.6 970.2 129.3 972.5 131.0C974.8 132.7 977.1 135.2 979.0 138.0C980.9 140.8 982.8 144.3 984.0 147.5C985.2 150.7 985.8 153.9 986.0 157.0C986.2 160.1 985.2 164.5 985.0 166.0" stroke-width="3.07"/>
<path d="M985.0 166.0L970.0 177.0L954.0 189.0" stroke-width="3.07"/>
<path d="M921.0 162.5C921.7 161.6 923.5 158.2 925.0 157.0C926.5 155.8 927.8 155.0 930.0 155.0C932.2 155.0 935.5 155.8 938.0 157.0C940.5 158.2 942.8 160.2 945.0 162.5C947.2 164.8 949.5 168.1 951.0 171.0C952.5 173.9 953.5 177.2 954.0 180.0C954.5 182.8 954.0 186.7 954.0 188.0" stroke-width="3.07"/>
<circle cx="954.0" cy="142.5" r="1.6" fill="#000" stroke="none"/>
<path d="M889.0 117.5L920.0 152.5" stroke-width="3.42"/>
<path d="M1145.6 181.6Q1150.0 177.5 1156.0 178.0L1180.0 180.1Q1186.0 180.6 1189.3 185.6L1206.2 211.0Q1209.5 216.0 1207.9 221.8L1201.6 243.7Q1200.0 249.5 1195.0 252.9L1192.5 254.6Q1187.5 258.0 1181.5 258.3L1176.0 258.7Q1170.0 259.0 1164.2 257.5L1159.8 256.5Q1154.0 255.0 1149.4 251.2L1143.6 246.3Q1139.0 242.5 1136.3 237.1L1132.2 229.1Q1129.5 223.8 1130.3 217.8L1131.2 210.9Q1132.0 205.0 1134.6 199.6L1138.4 191.4Q1141.0 186.0 1145.4 181.9Z" stroke-width="3.78"/>
<path d="M1141.0 215.0C1141.8 213.8 1143.5 209.7 1146.0 207.5C1148.5 205.3 1152.7 202.6 1156.0 202.0C1159.3 201.4 1162.4 201.6 1166.0 203.8C1169.6 205.9 1174.8 211.0 1177.5 215.0C1180.2 219.0 1181.6 223.5 1182.0 227.5C1182.4 231.5 1181.6 235.8 1180.0 238.8C1178.4 241.7 1175.2 243.6 1172.5 245.0C1169.8 246.4 1165.2 246.7 1163.8 247.0" stroke-width="3.78"/>
<path d="M1141.0 216.0C1141.3 213.8 1143.7 209.3 1146.0 207.0C1148.3 204.7 1153.9 200.9 1155.0 202.0C1156.1 203.1 1154.3 210.8 1152.5 213.8C1150.7 216.8 1145.9 219.6 1144.0 220.0C1142.1 220.4 1140.7 218.2 1141.0 216.0Z" fill="#000" stroke="none"/>
<path d="M1154.0 217.5C1154.8 218.9 1156.8 223.3 1158.8 226.0C1160.8 228.7 1163.3 231.6 1166.0 233.8C1168.7 235.9 1173.5 237.9 1175.0 238.8" stroke-width="3.07"/>
<path d="M1163.8 246.5C1165.1 246.2 1169.5 245.6 1172.0 244.5C1174.5 243.4 1177.6 240.8 1178.8 240.0" stroke-width="4.72"/>
<path d="M1147.5 238.0L1160.0 228.8" stroke-width="3.07"/>
<circle cx="1167.5" cy="223.0" r="2.0" fill="#000" stroke="none"/>
<circle cx="1144.0" cy="227.0" r="1.6" fill="#000" stroke="none"/>
<circle cx="1149.0" cy="227.0" r="1.4" fill="#000" stroke="none"/>
<circle cx="1155.0" cy="241.0" r="1.8" fill="#000" stroke="none"/>
<circle cx="1157.0" cy="237.0" r="1.0" fill="#000" stroke="none"/>
<path d="M1147.5 191.0L1163.8 192.5" stroke-width="3.07"/>
<path d="M1173.0 190.0L1175.0 194.0" stroke-width="3.07"/>
<path d="M1177.0 201.0L1180.0 205.6" stroke-width="3.07"/>
<path d="M1186.0 214.0L1188.8 220.0" stroke-width="3.07"/>
<circle cx="1196.0" cy="225.0" r="1.2" fill="#000" stroke="none"/>
<path d="M1192.0 231.0C1191.7 232.8 1190.7 238.7 1190.0 242.0C1189.3 245.3 1188.3 249.2 1188.0 250.6" stroke-width="3.07"/>
<path d="M1190.0 257.5L1211.0 295.0" stroke-width="3.42"/>
<path d="M1207.5 193.0L1224.4 181.0" stroke-width="3.07"/>
<path d="M321.4 760.9Q326.0 757.0 332.0 757.5L355.0 759.5Q361.0 760.0 364.6 764.8L384.4 791.2Q388.0 796.0 386.2 801.7L379.8 822.3Q378.0 828.0 372.6 830.7L370.4 831.8Q365.0 834.5 359.1 835.3L355.9 835.7Q350.0 836.5 344.0 835.8L338.0 835.2Q332.0 834.5 327.6 830.4L323.4 826.6Q319.0 822.5 315.9 817.4L309.1 806.1Q306.0 801.0 306.6 795.0L307.4 788.0Q308.0 782.0 310.7 776.6L313.8 770.4Q316.5 765.0 321.1 761.1Z" stroke-width="3.78"/>
<path d="M323.8 766.0 L352.5 767.0" stroke-width="3.07"/>
<path d="M352.5 767.0C353.5 769.3 356.5 777.2 358.8 781.0C361.0 784.8 362.9 786.8 366.0 790.0C369.1 793.2 375.6 798.3 377.5 800.0" stroke-width="3.07"/>
<path d="M377.5 800.0C376.7 801.2 374.1 804.4 372.5 807.5C370.9 810.6 368.9 814.6 368.0 818.8C367.1 822.9 367.2 830.2 367.0 832.5" stroke-width="3.07"/>
<path d="M317.0 797.5C316.8 792.9 318.4 785.9 321.0 782.5C323.6 779.1 328.5 777.4 332.5 777.0C336.5 776.6 341.1 777.7 345.0 780.0C348.9 782.3 353.2 786.8 356.0 791.0C358.8 795.2 361.3 800.6 362.0 805.0C362.7 809.4 361.6 814.2 360.0 817.5C358.4 820.8 355.7 823.6 352.5 825.0C349.3 826.4 344.6 826.8 341.0 826.0C337.4 825.2 334.2 822.7 331.0 820.0C327.8 817.3 324.3 813.8 322.0 810.0C319.7 806.2 317.2 802.1 317.0 797.5Z" stroke-width="4.37"/>
<path d="M318.0 800.0C318.3 798.0 318.8 791.2 320.0 788.0C321.2 784.8 324.2 782.2 325.0 781.0" stroke-width="6.49"/>
<path d="M331.0 818.0C332.7 818.9 337.5 822.8 341.0 823.5C344.5 824.2 349.0 823.8 352.0 822.5C355.0 821.2 357.8 817.1 359.0 816.0" stroke-width="6.49"/>
<path d="M331.0 782.5C331.2 784.6 331.4 791.1 332.5 795.0C333.6 798.9 335.2 803.0 337.5 806.0C339.8 809.0 342.9 811.5 346.0 813.0C349.1 814.5 354.3 814.7 356.0 815.0" stroke-width="3.54"/>
<path d="M302.5 823.8L346.0 793.8" stroke-width="3.07"/>
<path d="M332.0 793.8L336.0 807.5" stroke-width="2.36"/>
<path d="M365.0 835.0L377.5 885.0" stroke-width="3.42"/>
<path d="M403.8 720.0C404.6 718.1 405.9 712.5 408.8 708.8C411.6 705.0 415.8 701.6 421.0 697.5C426.2 693.4 432.7 689.0 440.0 684.0C447.3 679.0 456.7 672.5 465.0 667.5C473.3 662.5 483.2 657.3 490.0 653.8C496.8 650.2 501.0 647.5 506.0 646.0C511.0 644.5 516.0 645.2 520.0 645.0C524.0 644.8 528.3 645.0 530.0 645.0" stroke-width="3.78"/>
<path d="M530.0 645.0C532.1 646.2 539.0 649.4 542.5 652.5C546.0 655.6 549.1 660.0 551.0 663.8C552.9 667.5 553.9 671.0 553.8 675.0C553.6 679.0 551.7 683.3 550.0 687.5C548.3 691.7 547.1 695.8 543.8 700.0C540.4 704.2 534.8 708.3 530.0 712.5C525.2 716.7 520.2 721.1 515.0 725.0C509.8 728.9 504.6 732.1 498.8 735.8C492.9 739.4 486.5 743.0 480.0 747.0C473.5 751.0 465.8 756.8 460.0 760.0C454.2 763.2 447.5 765.0 445.0 766.0" stroke-width="3.78"/>
<path d="M506.0 646.0L502.5 656.0L512.5 651.0L513.5 646.5" stroke-width="3.07"/>
<path d="M526.0 648.0C527.7 649.6 532.8 653.4 536.0 657.5C539.2 661.6 542.9 667.9 545.0 672.5C547.1 677.1 548.1 682.9 548.8 685.0" stroke-width="3.78"/>
<path d="M532.0 646.5C534.3 648.9 542.8 656.1 546.0 661.0C549.2 665.9 550.6 673.5 551.5 676.0" stroke-width="2.36"/>
<path d="M502.5 658.8C504.6 660.4 511.2 664.8 515.0 668.8C518.8 672.7 522.5 678.1 525.0 682.5C527.5 686.9 529.3 690.8 530.0 695.0C530.7 699.2 529.2 705.4 529.0 707.5" stroke-width="3.07" stroke-dasharray="26 4"/>
<circle cx="536.0" cy="697.0" r="1.8" fill="#000" stroke="none"/>
<circle cx="495.6" cy="657.0" r="1.3" fill="#000" stroke="none"/>
<path d="M440.0 690.6C442.3 691.1 449.2 691.6 453.8 693.8C458.3 695.9 463.8 699.8 467.5 703.8C471.2 707.7 473.8 712.7 476.0 717.5C478.2 722.3 480.2 727.8 481.0 732.5C481.8 737.2 480.7 743.8 480.6 746.0" stroke-width="3.07" stroke-dasharray="3 4 6 4 30 0"/>
<path d="M459.0 732.5C459.6 734.6 462.3 741.1 462.5 745.0C462.7 748.9 460.4 754.2 460.0 756.0" stroke-width="3.07" stroke-dasharray="9 4"/>
<circle cx="464.0" cy="727.0" r="1.2" fill="#000" stroke="none"/>
<path d="M423.0 704.0C425.8 705.0 435.7 707.8 440.0 710.0C444.3 712.2 447.3 715.8 448.8 717.0" stroke-width="3.07"/>
<path d="M502.5 727.0L516.0 718.8" stroke-width="2.36"/>
<circle cx="496.0" cy="731.5" r="1.0" fill="#000" stroke="none"/>
<path d="M403.8 721.0C405.4 720.0 410.0 716.2 413.8 715.0C417.5 713.8 421.8 713.1 426.0 713.8C430.2 714.4 435.0 716.2 438.8 718.8C442.5 721.2 446.2 725.2 448.8 728.8C451.2 732.3 453.1 736.3 453.8 740.0C454.4 743.7 454.0 747.2 452.5 751.0C451.0 754.8 446.2 760.6 445.0 762.5" stroke-width="3.78"/>
<path d="M403.8 722.5C402.3 723.8 396.9 726.7 395.0 730.0C393.1 733.3 392.3 738.2 392.5 742.5C392.7 746.8 393.5 751.6 396.0 756.0C398.5 760.4 403.1 765.9 407.5 768.8C411.9 771.6 417.9 773.0 422.5 773.0C427.1 773.0 431.2 770.1 435.0 768.8C438.8 767.4 443.3 765.6 445.0 765.0" stroke-width="3.78"/>
<path d="M405.0 727.0C407.1 727.3 413.8 727.2 417.5 728.8C421.2 730.2 424.8 733.3 427.5 736.0C430.2 738.7 432.7 743.5 433.8 745.0" stroke-width="3.07"/>
<path d="M440.0 760.0C440.5 758.2 443.8 756.0 445.0 757.0C446.2 758.0 447.5 764.2 447.0 766.0C446.5 767.8 443.2 769.0 442.0 768.0C440.8 767.0 439.5 761.8 440.0 760.0Z" fill="#000" stroke="none"/>
<path d="M407.0 746.0C408.1 745.5 411.6 742.5 413.8 743.0C415.9 743.5 419.6 746.6 420.0 748.8C420.4 750.9 416.7 754.8 416.0 756.0" stroke-width="3.07"/>
<path d="M403.0 753.8L408.0 751.0" stroke-width="2.36"/>
<path d="M411.0 721.0C412.8 721.0 418.3 720.2 422.0 721.0C425.7 721.8 429.8 723.8 433.0 726.0C436.2 728.2 439.7 732.7 441.0 734.0" stroke-width="2.36" stroke-dasharray="2 3"/>
<path d="M415.0 724.5C417.0 725.0 423.3 725.6 427.0 727.5C430.7 729.4 435.3 734.6 437.0 736.0" stroke-width="2.36" stroke-dasharray="4 3"/>
<path d="M437.0 732.0C438.0 733.7 441.8 738.7 443.0 742.0C444.2 745.3 443.8 750.3 444.0 752.0" stroke-width="3.07" stroke-dasharray="6 3"/>
<path d="M447.0 738.0 L449.0 748.0" stroke-width="2.36" stroke-dasharray="2 2"/>
<path d="M434.0 750.0 L436.0 759.0" stroke-width="3.07"/>
<path d="M419.0 720.0C420.2 720.4 423.8 721.3 426.0 722.5C428.2 723.7 431.0 726.2 432.0 727.0" stroke-width="3.54" stroke-dasharray="3 3"/>
<path d="M436.5 732.0 L442.0 741.0" stroke-width="4.01"/>
<path d="M441.0 746.0 L443.0 754.0" stroke-width="3.54"/>
<circle cx="416.5" cy="719.5" r="1.3" fill="#000" stroke="none"/>
<circle cx="424.0" cy="718.5" r="1.2" fill="#000" stroke="none"/>
<circle cx="447.5" cy="738.8" r="1.3" fill="#000" stroke="none"/>
<circle cx="436.0" cy="752.5" r="1.5" fill="#000" stroke="none"/>
<circle cx="432.5" cy="766.0" r="1.5" fill="#000" stroke="none"/>
<circle cx="438.5" cy="745.0" r="1.2" fill="#000" stroke="none"/>
<path d="M385.0 766.0L395.0 760.0" stroke-width="3.07"/>
<path d="M517.5 726.0L532.5 782.5" stroke-width="3.42"/>
<rect x="768.0" y="664.5" width="26.5" height="10.5" rx="5.2" transform="rotate(-30 781.2 669.7)" stroke-width="3.5"/>
<rect x="800.5" y="640.8" width="27.0" height="11.0" rx="5.5" transform="rotate(-30 814.0 646.2)" stroke-width="3.5"/>
<rect x="834.9" y="617.8" width="29.0" height="12.0" rx="6.0" transform="rotate(-30 849.4 623.8)" stroke-width="3.5" stroke-dasharray="34 3 10 3"/>
<path d="M788.0 682.0L798.0 697.5L900.6 620.0" stroke-width="3.54"/>
<path d="M822.0 655.6L831.0 672.0" stroke-width="3.54"/>
<path d="M858.8 633.8L867.5 645.0" stroke-width="3.54"/>
<path d="M634.0 660.0L650.0 719.0L1146.0 359.0L1122.5 319.0" stroke-width="3.48"/>
<path d="M864.0 500.6L892.0 543.0" stroke-width="3.48"/>
<path d="M1079.0 407.5L1100.0 439.0" stroke-width="3.48"/>
<path d="M1011.0 334.0L1050.0 307.5" stroke-width="3.48"/>
<path d="M862.5 861.5L1080.0 700.0L1070.0 693.5" stroke-width="3.48"/>
<path d="M912.5 803.0L925.0 815.0" stroke-width="3.48"/>
<path d="M950.0 776.5L960.5 789.0" stroke-width="3.48"/>
<path d="M1156.0 791.0L1193.0 760.0" stroke-width="3.54"/>
<path d="M998.8 645.0C999.0 640.8 999.6 636.5 1001.2 632.5C1002.9 628.5 1005.2 624.8 1008.8 621.2C1012.3 617.7 1017.9 614.4 1022.5 611.2C1027.1 608.1 1032.1 604.6 1036.2 602.5C1040.4 600.4 1043.5 599.0 1047.5 598.8C1051.5 598.5 1055.6 599.4 1060.0 601.2C1064.4 603.1 1069.4 606.2 1073.8 610.0C1078.1 613.8 1083.1 619.2 1086.2 623.8C1089.4 628.3 1091.1 632.7 1092.5 637.5C1093.9 642.3 1094.8 647.9 1094.4 652.5C1094.0 657.1 1092.0 661.2 1090.0 665.0C1088.0 668.8 1086.2 671.5 1082.5 675.0C1078.8 678.5 1072.1 682.9 1067.5 686.2C1062.9 689.6 1059.2 693.1 1055.0 695.0C1050.8 696.9 1046.7 697.7 1042.5 697.5C1038.3 697.3 1034.2 695.8 1030.0 693.8C1025.8 691.7 1021.5 688.8 1017.5 685.0C1013.5 681.2 1009.2 675.8 1006.2 671.2C1003.3 666.7 1001.2 661.9 1000.0 657.5C998.8 653.1 998.5 649.2 998.8 645.0Z" stroke-width="3.78"/>
<path d="M1003.8 632.5C1005.1 631.2 1008.7 627.1 1012.0 625.0C1015.3 622.9 1019.7 620.6 1023.8 620.0C1027.8 619.4 1032.1 619.8 1036.2 621.2C1040.4 622.7 1044.8 625.2 1048.8 628.8C1052.7 632.3 1056.9 637.7 1060.0 642.5C1063.1 647.3 1066.0 652.7 1067.5 657.5C1069.0 662.3 1069.0 667.9 1068.8 671.2C1068.5 674.6 1066.7 676.5 1066.2 677.5" stroke-width="3.78"/>
<path d="M1023.8 621.2C1023.8 622.5 1023.6 626.3 1024.0 629.0C1024.4 631.7 1024.6 633.6 1026.2 637.5C1027.9 641.4 1030.6 647.9 1033.8 652.5C1036.9 657.1 1041.0 661.7 1045.0 665.0C1049.0 668.3 1053.8 670.6 1057.5 672.5C1061.2 674.4 1065.8 675.6 1067.5 676.2" stroke-width="3.07"/>
<path d="M1002.0 634.0C1002.8 632.2 1006.7 628.2 1010.0 626.0C1013.3 623.8 1020.0 620.5 1022.0 620.5C1024.0 620.5 1023.7 624.4 1022.0 626.0C1020.3 627.6 1014.8 628.2 1012.0 630.0C1009.2 631.8 1006.7 636.3 1005.0 637.0C1003.3 637.7 1001.2 635.8 1002.0 634.0Z" fill="#000" stroke="none"/>
<path d="M1027.0 607.0C1028.0 605.5 1033.7 602.7 1036.0 602.0C1038.3 601.3 1041.0 601.8 1041.0 603.0C1041.0 604.2 1037.8 607.7 1036.0 609.0C1034.2 610.3 1031.5 611.3 1030.0 611.0C1028.5 610.7 1026.0 608.5 1027.0 607.0Z" fill="#000" stroke="none"/>
<path d="M1047.2 605.0L1042.7 612.7L1048.8 616.2L1053.3 608.5" stroke-width="3.78"/>
<path d="M1060.2 611.8L1054.4 618.7L1059.8 623.2L1065.6 616.3" stroke-width="3.78"/>
<path d="M1070.6 622.4L1063.7 628.2L1068.2 633.6L1075.1 627.8Z" stroke-width="3.78"/>
<path d="M1081.3 635.9L1073.2 639.7L1076.2 646.1L1084.3 642.3" stroke-width="3.78"/>
<path d="M1084.2 654.1L1075.2 654.9L1075.8 661.9L1084.8 661.1" stroke-width="3.78"/>
<path d="M1073.7 670.8L1082.3 673.2" stroke-width="4.72"/>
<path d="M1011.0 638.9L1007.5 648.3L1015.0 651.1L1018.5 641.7" stroke-width="3.78"/>
<path d="M1019.6 654.2L1013.9 662.4L1020.4 667.0L1026.1 658.8" stroke-width="3.78"/>
<path d="M1034.3 667.6L1026.1 673.3L1030.7 679.9L1038.9 674.2" stroke-width="3.78"/>
<path d="M1039.9 681.0L1049.3 677.5L1052.1 685.0L1042.7 688.5" stroke-width="3.78"/>
<path d="M1057.0 690.0C1057.2 688.8 1062.2 685.0 1064.0 684.0C1065.8 683.0 1068.2 682.8 1068.0 684.0C1067.8 685.2 1064.8 690.0 1063.0 691.0C1061.2 692.0 1056.8 691.2 1057.0 690.0Z" fill="#000" stroke="none"/>
<circle cx="1037.5" cy="694.0" r="2.0" fill="#000" stroke="none"/>
<circle cx="1075.0" cy="680.0" r="2.0" fill="#000" stroke="none"/>
<path d="M878.8 707.0C881.5 704.8 889.8 696.8 895.0 693.8C900.2 690.7 904.8 689.2 910.0 688.8C915.2 688.3 920.6 689.0 926.0 691.0C931.4 693.0 937.7 696.6 942.5 701.0C947.3 705.4 951.9 711.8 955.0 717.5C958.1 723.2 960.0 729.6 961.0 735.0C962.0 740.4 962.0 745.4 961.0 750.0C960.0 754.6 957.7 759.2 955.0 762.5C952.3 765.8 948.8 767.5 945.0 770.0C941.2 772.5 936.0 775.4 932.5 777.5C929.0 779.6 925.2 781.7 923.8 782.5" stroke-width="3.78"/>
<path d="M896.0 705.0C897.9 705.2 903.5 704.3 907.5 706.0C911.5 707.7 916.2 711.4 920.0 715.0C923.8 718.6 927.1 722.9 930.0 727.5C932.9 732.1 935.8 737.5 937.5 742.5C939.2 747.5 940.0 753.3 940.0 757.5C940.0 761.7 938.5 765.4 937.5 767.5C936.5 769.6 934.4 769.6 933.8 770.0" stroke-width="3.07"/>
<path d="M877.5 710.0C877.9 708.8 890.4 705.0 892.5 705.5C894.6 706.0 892.5 712.2 890.0 713.0C887.5 713.8 877.1 711.2 877.5 710.0Z" fill="#000" stroke="none"/>
<path d="M914.3 690.1L911.6 697.6L917.7 699.9L920.4 692.4" stroke-width="3.78"/>
<path d="M924.2 695.9L920.2 702.8L925.8 706.1L929.8 699.2" stroke-width="3.78"/>
<path d="M928.7 709.7L933.8 703.6L938.8 707.8L933.7 713.9" stroke-width="3.78"/>
<path d="M941.0 713.7L934.8 718.8L939.0 723.8L945.2 718.7Z" stroke-width="3.78"/>
<path d="M942.4 731.7L949.6 728.3" stroke-width="4.72"/>
<path d="M953.0 735.8L945.3 737.9L947.0 744.2L954.7 742.1" stroke-width="3.78"/>
<path d="M948.5 750.3L956.5 749.7" stroke-width="4.72"/>
<path d="M946.1 760.3L953.9 761.7" stroke-width="4.72"/>
<path d="M947.0 765.0C947.8 763.3 953.2 758.8 955.0 758.0C956.8 757.2 958.8 758.3 958.0 760.0C957.2 761.7 951.8 767.2 950.0 768.0C948.2 768.8 946.2 766.7 947.0 765.0Z" fill="#000" stroke="none"/>
<path d="M885.0 710.6C882.9 711.1 877.1 711.8 872.5 713.8C867.9 715.7 862.1 719.4 857.5 722.5C852.9 725.6 848.3 729.2 845.0 732.5C841.7 735.8 839.2 738.8 837.5 742.5C835.8 746.2 835.1 750.8 835.0 755.0C834.9 759.2 835.8 763.6 837.0 768.0C838.2 772.4 840.3 777.7 842.5 781.5C844.7 785.3 847.1 788.1 850.0 791.0C852.9 793.9 856.5 796.7 860.0 799.0C863.5 801.3 867.2 803.3 871.0 805.0C874.8 806.7 878.8 808.8 882.5 809.0C886.2 809.2 890.1 807.2 893.0 806.0C895.9 804.8 898.0 803.5 900.0 801.5C902.0 799.5 904.2 795.2 905.0 794.0" stroke-width="3.78"/>
<path d="M885.0 710.6C885.8 711.1 887.1 712.0 890.0 713.8C892.9 715.5 898.3 717.3 902.5 721.0C906.7 724.7 911.5 730.8 915.0 736.0C918.5 741.2 921.7 747.2 923.8 752.5C925.8 757.8 927.1 763.1 927.5 767.5C927.9 771.9 927.2 775.4 926.0 778.8C924.8 782.1 922.2 784.7 920.0 787.5C917.8 790.3 915.0 793.8 912.5 795.8C910.0 797.7 906.2 798.5 905.0 799.0" stroke-width="3.78"/>
<path d="M842.5 741.0C843.6 740.0 846.8 736.7 849.0 735.0C851.2 733.3 853.5 732.0 856.0 731.0C858.5 730.0 860.4 728.5 863.8 729.0C867.1 729.5 871.6 730.7 876.0 733.8C880.4 736.8 886.0 742.3 890.0 747.5C894.0 752.7 897.7 759.6 900.0 765.0C902.3 770.4 903.6 775.8 903.8 780.0C903.9 784.2 901.5 788.3 901.0 790.0" stroke-width="3.78"/>
<path d="M856.0 732.5C855.8 733.9 855.0 738.1 855.0 741.0C855.0 743.9 854.8 745.6 856.0 750.0C857.2 754.4 859.3 762.1 862.5 767.5C865.7 772.9 870.4 778.6 875.0 782.5C879.6 786.4 885.8 789.6 890.0 791.0C894.2 792.4 898.3 791.0 900.0 791.0" stroke-width="3.07"/>
<path d="M871.0 738.8C871.2 740.1 871.2 744.3 872.0 747.0C872.8 749.7 873.4 751.4 876.0 755.0C878.6 758.6 883.3 765.2 887.5 768.8C891.7 772.2 898.8 774.8 901.0 776.0" stroke-width="3.07"/>
<path d="M841.0 743.0C841.0 742.0 845.5 737.0 848.0 735.0C850.5 733.0 854.8 730.8 856.0 731.0C857.2 731.2 856.3 734.3 855.0 736.0C853.7 737.7 850.3 739.8 848.0 741.0C845.7 742.2 841.0 744.0 841.0 743.0Z" fill="#000" stroke="none"/>
<path d="M879.7 716.0L876.4 723.3L882.3 726.0L885.6 718.7" stroke-width="3.78"/>
<path d="M888.4 722.4L883.8 728.9L889.1 732.6L893.7 726.1" stroke-width="3.78"/>
<path d="M899.3 729.9L893.6 735.5L898.2 740.1L903.9 734.5Z" stroke-width="3.78"/>
<path d="M907.4 738.8L900.9 743.4L904.6 748.7L911.1 744.1Z" stroke-width="3.78"/>
<path d="M906.1 752.1L913.6 749.3L915.9 755.4L908.4 758.2" stroke-width="3.78"/>
<path d="M912.1 764.4L919.9 763.1" stroke-width="4.72"/>
<path d="M913.5 773.8L921.5 773.8" stroke-width="4.72"/>
<path d="M919.9 784.3L912.4 781.6L910.1 787.7L917.6 790.4Z" stroke-width="3.78"/>
<path d="M841.8 755.0L843.9 747.3L850.2 749.0L848.1 756.7" stroke-width="3.78"/>
<path d="M848.2 761.9L844.2 768.8L849.8 772.1L853.8 765.2Z" stroke-width="3.78"/>
<path d="M854.5 773.6L848.9 779.3L853.5 783.9L859.1 778.2Z" stroke-width="3.78"/>
<path d="M866.8 782.7L859.9 786.7L863.2 792.3L870.1 788.3Z" stroke-width="3.78"/>
<path d="M880.0 792.8L872.3 794.9L874.0 801.2L881.7 799.1" stroke-width="3.78"/>
<path d="M881.3 748.2L878.3 753.3L882.7 755.8L885.7 750.7" stroke-width="2.83"/>
<circle cx="888.0" cy="757.0" r="1.6" fill="#000" stroke="none"/>
<circle cx="893.0" cy="764.0" r="1.4" fill="#000" stroke="none"/>
<circle cx="906.0" cy="763.0" r="1.4" fill="#000" stroke="none"/>
<circle cx="905.0" cy="771.0" r="1.8" fill="#000" stroke="none"/>
<circle cx="908.0" cy="776.0" r="1.8" fill="#000" stroke="none"/>
<path d="M1016.2 831.2C1015.6 835.2 1016.0 840.8 1017.5 846.2C1019.0 851.7 1021.7 858.5 1025.0 863.8C1028.3 869.0 1032.9 873.3 1037.5 877.5C1042.1 881.7 1047.9 886.3 1052.5 888.8C1057.1 891.2 1060.8 892.4 1065.0 892.0C1069.2 891.6 1074.4 888.9 1077.5 886.2C1080.6 883.6 1082.3 880.2 1083.8 876.2C1085.2 872.3 1086.5 867.7 1086.2 862.5C1086.0 857.3 1084.8 850.6 1082.5 845.0C1080.2 839.4 1076.5 833.3 1072.5 828.8C1068.5 824.2 1063.5 820.2 1058.8 817.5C1054.0 814.8 1048.3 812.9 1043.8 812.5C1039.2 812.1 1035.0 813.3 1031.2 815.0C1027.5 816.7 1023.8 819.8 1021.2 822.5C1018.8 825.2 1016.9 827.3 1016.2 831.2Z" stroke-width="3.78"/>
<path d="M1020.0 821.5C1022.9 819.0 1030.8 811.3 1037.5 806.2C1044.2 801.2 1052.5 796.5 1060.0 791.2C1067.5 786.0 1076.7 779.0 1082.5 775.0C1088.3 771.0 1091.2 768.6 1095.0 767.0C1098.8 765.4 1100.8 764.9 1105.0 765.6C1109.2 766.3 1115.0 768.2 1120.0 771.2C1125.0 774.3 1130.8 779.0 1135.0 783.8C1139.2 788.5 1142.6 794.4 1145.0 800.0C1147.4 805.6 1149.0 812.3 1149.4 817.5C1149.8 822.7 1149.5 826.2 1147.5 831.0C1145.5 835.8 1143.3 840.5 1137.5 846.0C1131.7 851.5 1122.5 856.8 1112.5 863.8C1102.5 870.7 1083.3 883.5 1077.5 887.5" stroke-width="3.78"/>
<path d="M1086.2 777.0C1088.5 778.1 1095.2 780.3 1100.0 783.8C1104.8 787.2 1110.8 792.7 1115.0 797.5C1119.2 802.3 1122.5 807.5 1125.0 812.5C1127.5 817.5 1129.4 822.6 1130.0 827.5C1130.6 832.4 1129.0 839.6 1128.8 842.0" stroke-width="3.07"/>
<path d="M1036.0 822.0C1036.3 823.8 1036.8 828.5 1038.0 833.0C1039.2 837.5 1041.0 844.2 1043.0 849.0C1045.0 853.8 1048.8 859.8 1050.0 862.0" stroke-width="2.36"/>
<path d="M1065.1 791.1L1078.9 782.9" stroke-width="4.48"/>
<path d="M1068.1 801.1L1081.9 792.9" stroke-width="4.48"/>
<path d="M1071.1 812.1L1084.9 803.9" stroke-width="4.48"/>
<path d="M1077.1 823.1L1090.9 814.9" stroke-width="4.48"/>
<path d="M1084.1 833.6L1097.9 825.4" stroke-width="4.48"/>
<path d="M1090.1 844.1L1103.9 835.9" stroke-width="4.48"/>
<path d="M1093.1 855.1L1106.9 846.9" stroke-width="4.48"/>
<path d="M1055.0 798.8L1061.0 795.2" stroke-width="3.78"/>
<path d="M1061.0 807.8L1067.0 804.2" stroke-width="3.78"/>
<path d="M1097.0 863.8L1103.0 860.2" stroke-width="3.78"/>
<path d="M1089.0 869.8L1095.0 866.2" stroke-width="3.78"/>
<circle cx="1056.0" cy="803.0" r="2.0" fill="#000" stroke="none"/>
<circle cx="1067.0" cy="813.0" r="1.8" fill="#000" stroke="none"/>
<circle cx="1088.0" cy="812.0" r="1.8" fill="#000" stroke="none"/>
<circle cx="1095.0" cy="822.0" r="2.0" fill="#000" stroke="none"/>
<circle cx="1103.0" cy="833.0" r="1.8" fill="#000" stroke="none"/>
<circle cx="1107.0" cy="846.0" r="2.0" fill="#000" stroke="none"/>
<circle cx="1084.0" cy="804.0" r="1.6" fill="#000" stroke="none"/>
<rect x="1084.5" y="789.8" width="19.0" height="5.4" rx="2.7" transform="rotate(-31 1094.0 792.5)" stroke-width="3.42"/>
<rect x="1095.0" y="799.8" width="19.0" height="5.4" rx="2.7" transform="rotate(-31 1104.5 802.5)" stroke-width="3.42"/>
<rect x="1102.5" y="809.3" width="19.0" height="5.4" rx="2.7" transform="rotate(-31 1112.0 812.0)" stroke-width="3.42"/>
<rect x="1107.5" y="819.3" width="19.0" height="5.4" rx="2.7" transform="rotate(-31 1117.0 822.0)" stroke-width="3.42"/>
<rect x="1110.0" y="829.3" width="19.0" height="5.4" rx="2.7" transform="rotate(-31 1119.5 832.0)" stroke-width="3.42"/>
<rect x="1109.5" y="840.3" width="19.0" height="5.4" rx="2.7" transform="rotate(-31 1119.0 843.0)" stroke-width="3.42"/>
<rect x="1103.5" y="850.3" width="19.0" height="5.4" rx="2.7" transform="rotate(-31 1113.0 853.0)" stroke-width="3.42"/>
<path d="M1098.5 769.0L1095.8 776.5L1101.5 778.5L1104.2 771.0" stroke-width="3.66"/>
<path d="M1107.7 781.6L1112.3 775.0L1117.3 778.4L1112.7 785.0" stroke-width="3.66"/>
<path d="M1125.7 785.1L1120.1 790.7L1124.3 794.9L1129.9 789.3Z" stroke-width="3.66"/>
<path d="M1134.5 797.9L1127.5 801.9L1130.5 807.1L1137.5 803.1" stroke-width="3.66"/>
<path d="M1132.9 810.6L1140.6 808.6L1142.1 814.4L1134.4 816.4" stroke-width="3.66"/>
<path d="M1144.7 819.7L1136.8 820.4L1137.3 826.3L1145.2 825.6" stroke-width="3.66"/>
<path d="M1134.1 834.3L1141.9 835.7" stroke-width="4.60"/>
<circle cx="1131.0" cy="814.0" r="2.0" fill="#000" stroke="none"/>
<circle cx="1134.0" cy="825.0" r="2.0" fill="#000" stroke="none"/>
<circle cx="1128.0" cy="848.0" r="2.0" fill="#000" stroke="none"/>
<circle cx="1122.0" cy="801.0" r="1.6" fill="#000" stroke="none"/>
<rect x="1043.5" y="823.8" width="19.0" height="5.4" rx="2.7" transform="rotate(-31 1053.0 826.5)" stroke-width="3.42"/>
<rect x="1047.0" y="835.3" width="19.0" height="5.4" rx="2.7" transform="rotate(-31 1056.5 838.0)" stroke-width="3.42"/>
<rect x="1053.5" y="845.8" width="19.0" height="5.4" rx="2.7" transform="rotate(-31 1063.0 848.5)" stroke-width="3.42"/>
<rect x="1060.0" y="856.3" width="19.0" height="5.4" rx="2.7" transform="rotate(-31 1069.5 859.0)" stroke-width="3.42"/>
<rect x="1062.5" y="867.8" width="19.0" height="5.4" rx="2.7" transform="rotate(-31 1072.0 870.5)" stroke-width="3.42"/>
<path d="M1041.6 823.1L1048.4 818.9" stroke-width="3.78"/>
<path d="M1062.6 882.1L1069.4 877.9" stroke-width="3.78"/>
<path d="M1025.4 826.0L1029.4 819.0L1034.6 822.0L1030.6 829.0" stroke-width="3.66"/>
<path d="M1024.6 835.4L1022.6 843.1L1028.4 844.6L1030.4 836.9" stroke-width="3.66"/>
<path d="M1030.8 850.0L1026.2 856.6L1031.2 860.0L1035.8 853.4Z" stroke-width="3.66"/>
<path d="M1041.1 863.1L1035.0 868.3L1038.9 872.9L1045.0 867.7" stroke-width="3.66"/>
<path d="M1049.2 880.4L1056.8 877.6" stroke-width="4.60"/>
<circle cx="1037.0" cy="872.0" r="2.0" fill="#000" stroke="none"/>
<circle cx="1047.0" cy="876.0" r="2.0" fill="#000" stroke="none"/>
<circle cx="1058.0" cy="884.0" r="2.0" fill="#000" stroke="none"/>
<circle cx="1073.0" cy="879.0" r="1.8" fill="#000" stroke="none"/>
<circle cx="1078.0" cy="867.0" r="1.8" fill="#000" stroke="none"/>
<circle cx="1024.0" cy="832.0" r="1.6" fill="#000" stroke="none"/>
<path d="M1050.0 868.0 L1058.0 873.0" stroke-width="3.78"/>
<path d="M1062.0 866.0 L1066.0 874.0" stroke-width="3.54"/>
<path transform="translate(460.3 305.3) scale(1.000)" d="M13.4 0 L13.4 28.7 L7.4 28.7 L7.4 9.5 L1 9.3 Q0 9.2 0 8.2 L0 6.4 Q0 5.5 1 5.3 Q5.5 4.6 8.4 0 Z" fill="#000" fill-rule="evenodd" stroke="#000" stroke-width="0.5" stroke-linejoin="round"/>
<path transform="translate(477.5 305.3) scale(1.000)" d="M13.4 0 L13.4 28.7 L7.4 28.7 L7.4 9.5 L1 9.3 Q0 9.2 0 8.2 L0 6.4 Q0 5.5 1 5.3 Q5.5 4.6 8.4 0 Z" fill="#000" fill-rule="evenodd" stroke="#000" stroke-width="0.5" stroke-linejoin="round"/>
<path transform="translate(750.0 94.4) scale(1.000)" d="M13.4 0 L13.4 28.7 L7.4 28.7 L7.4 9.5 L1 9.3 Q0 9.2 0 8.2 L0 6.4 Q0 5.5 1 5.3 Q5.5 4.6 8.4 0 Z" fill="#000" fill-rule="evenodd" stroke="#000" stroke-width="0.5" stroke-linejoin="round"/>
<text x="769.6" y="125.0" font-size="42.0">2</text>
<path transform="translate(841.2 129.6) scale(1.000)" d="M13.4 0 L13.4 28.7 L7.4 28.7 L7.4 9.5 L1 9.3 Q0 9.2 0 8.2 L0 6.4 Q0 5.5 1 5.3 Q5.5 4.6 8.4 0 Z" fill="#000" fill-rule="evenodd" stroke="#000" stroke-width="0.5" stroke-linejoin="round"/>
<text x="860.2" y="159.5" font-size="42.0">2</text>
<text x="1206.2" y="341.7" font-size="42.5">2</text>
<path transform="translate(1094.4 463.1) scale(1.000)" d="M13.4 0 L13.4 28.7 L7.4 28.7 L7.4 9.5 L1 9.3 Q0 9.2 0 8.2 L0 6.4 Q0 5.5 1 5.3 Q5.5 4.6 8.4 0 Z" fill="#000" fill-rule="evenodd" stroke="#000" stroke-width="0.5" stroke-linejoin="round"/>
<text x="1112.8" y="492.3" font-size="42.0">4</text>
<path transform="translate(904.7 592.8) scale(1.000)" d="M13.4 0 L13.4 28.7 L7.4 28.7 L7.4 9.5 L1 9.3 Q0 9.2 0 8.2 L0 6.4 Q0 5.5 1 5.3 Q5.5 4.6 8.4 0 Z" fill="#000" fill-rule="evenodd" stroke="#000" stroke-width="0.5" stroke-linejoin="round"/>
<text x="923.7" y="621.4" font-size="42.5">3</text>
<path transform="translate(1208.8 722.0) scale(0.970)" d="M13.4 0 L13.4 28.7 L7.4 28.7 L7.4 9.5 L1 9.3 Q0 9.2 0 8.2 L0 6.4 Q0 5.5 1 5.3 Q5.5 4.6 8.4 0 Z" fill="#000" fill-rule="evenodd" stroke="#000" stroke-width="0.5" stroke-linejoin="round"/>
<text x="1228.0" y="749.4" font-size="42.5">5</text>
<path transform="translate(800.9 853.4) scale(1.000)" d="M14.1 0 L14.1 32.2 L8.1 32.2 L8.1 9.4 C5.8 11.5 3.2 13 0 14.1 L0 8.6 C4.5 7 8 3.8 9.2 0 Z" fill="#000" fill-rule="evenodd" stroke="#000" stroke-width="0.5" stroke-linejoin="round"/>
<text x="821.8" y="886.3" font-size="46.5">7</text>
<text x="524.3" y="830.7" font-size="42.5">4</text>
<text x="386.8" y="911.7" font-size="43.0">2</text>
</g>
</svg>
</body></html>
